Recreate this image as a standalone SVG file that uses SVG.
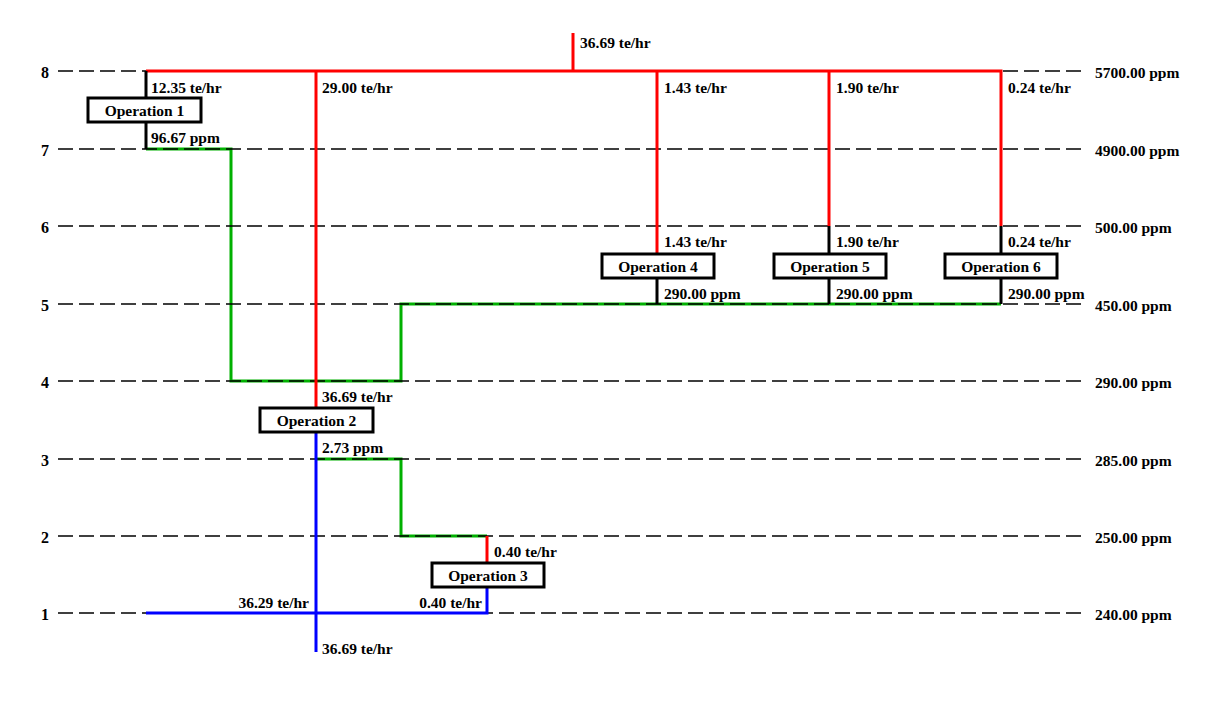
<svg xmlns="http://www.w3.org/2000/svg" width="1231" height="707" viewBox="0 0 1231 707">
<style>
text{font-family:"Liberation Serif","Times New Roman",serif;font-weight:bold;font-size:15.5px;fill:#000}
.lv{font-size:16px}
.grid{stroke:#000;stroke-width:1.3;stroke-dasharray:15 6;fill:none}
.r{stroke:#f00;stroke-width:3;fill:none}
.g{stroke:#00b000;stroke-width:3;fill:none}
.b{stroke:#00f;stroke-width:3;fill:none}
.k{stroke:#000;stroke-width:3;fill:none}
.box{fill:#fff;stroke:#000;stroke-width:3}
.end{text-anchor:end}
.mid{text-anchor:middle}
</style>
<rect width="1231" height="707" fill="#fff"/>
<g id="connectors">
<path class="g" d="M146 149H231V381H401V304H1001"/>
<path class="g" d="M316 459H401V536H487"/>
<g id="grid">
<line class="grid" x1="58" y1="71" x2="1085" y2="71"/>
<line class="grid" x1="58" y1="149" x2="1085" y2="149"/>
<line class="grid" x1="58" y1="226" x2="1085" y2="226"/>
<line class="grid" x1="58" y1="304" x2="1085" y2="304"/>
<line class="grid" x1="58" y1="381" x2="1085" y2="381"/>
<line class="grid" x1="58" y1="459" x2="1085" y2="459"/>
<line class="grid" x1="58" y1="536" x2="1085" y2="536"/>
<line class="grid" x1="58" y1="613" x2="1085" y2="613"/>
</g>
<path class="r" d="M146 71H1001V226M573 33V71M316 71V407M657 71V253M829 71V226"/>
<path class="k" d="M146 71V97M146 122V149M829 226V253M1001 226V253M657 278V304M829 278V304M1001 278V304"/>
<path class="r" d="M487 536V562"/>
<path class="b" d="M316 432V652M487 587V613H146"/>
</g>
<g id="levels">
<text class="lv" x="41" y="78">8</text>
<text class="lv" x="41" y="156">7</text>
<text class="lv" x="41" y="233">6</text>
<text class="lv" x="41" y="311">5</text>
<text class="lv" x="41" y="388">4</text>
<text class="lv" x="41" y="466">3</text>
<text class="lv" x="41" y="543">2</text>
<text class="lv" x="41" y="620">1</text>
<text x="1095" y="78">5700.00 ppm</text>
<text x="1095" y="156">4900.00 ppm</text>
<text x="1095" y="233">500.00 ppm</text>
<text x="1095" y="311">450.00 ppm</text>
<text x="1095" y="388">290.00 ppm</text>
<text x="1095" y="466">285.00 ppm</text>
<text x="1095" y="543">250.00 ppm</text>
<text x="1095" y="620">240.00 ppm</text>
</g>
<g id="labels">
<text x="580" y="48">36.69 te/hr</text>
<text x="151" y="93">12.35 te/hr</text>
<text x="151" y="143">96.67 ppm</text>
<text x="322" y="93">29.00 te/hr</text>
<text x="664" y="93">1.43 te/hr</text>
<text x="836" y="93">1.90 te/hr</text>
<text x="1008" y="93">0.24 te/hr</text>
<text x="664" y="247">1.43 te/hr</text>
<text x="836" y="247">1.90 te/hr</text>
<text x="1008" y="247">0.24 te/hr</text>
<text x="664" y="299">290.00 ppm</text>
<text x="836" y="299">290.00 ppm</text>
<text x="1008" y="299">290.00 ppm</text>
<text x="322" y="402">36.69 te/hr</text>
<text x="322" y="453">2.73 ppm</text>
<text x="494" y="557">0.40 te/hr</text>
<text class="end" x="482" y="608">0.40 te/hr</text>
<text class="end" x="309" y="608">36.29 te/hr</text>
<text x="322" y="654">36.69 te/hr</text>
</g>
<g id="op1"><rect class="box" x="88" y="98" width="113" height="24"/><text class="mid" x="144.5" y="116">Operation 1</text></g>
<g id="op2"><rect class="box" x="260" y="408" width="113" height="24"/><text class="mid" x="316.5" y="426">Operation 2</text></g>
<g id="op3"><rect class="box" x="432" y="563" width="112" height="24"/><text class="mid" x="488" y="581">Operation 3</text></g>
<g id="op4"><rect class="box" x="602" y="254" width="112" height="24"/><text class="mid" x="658" y="272">Operation 4</text></g>
<g id="op5"><rect class="box" x="774" y="254" width="112" height="24"/><text class="mid" x="830" y="272">Operation 5</text></g>
<g id="op6"><rect class="box" x="945" y="254" width="112" height="24"/><text class="mid" x="1001" y="272">Operation 6</text></g>
</svg>
